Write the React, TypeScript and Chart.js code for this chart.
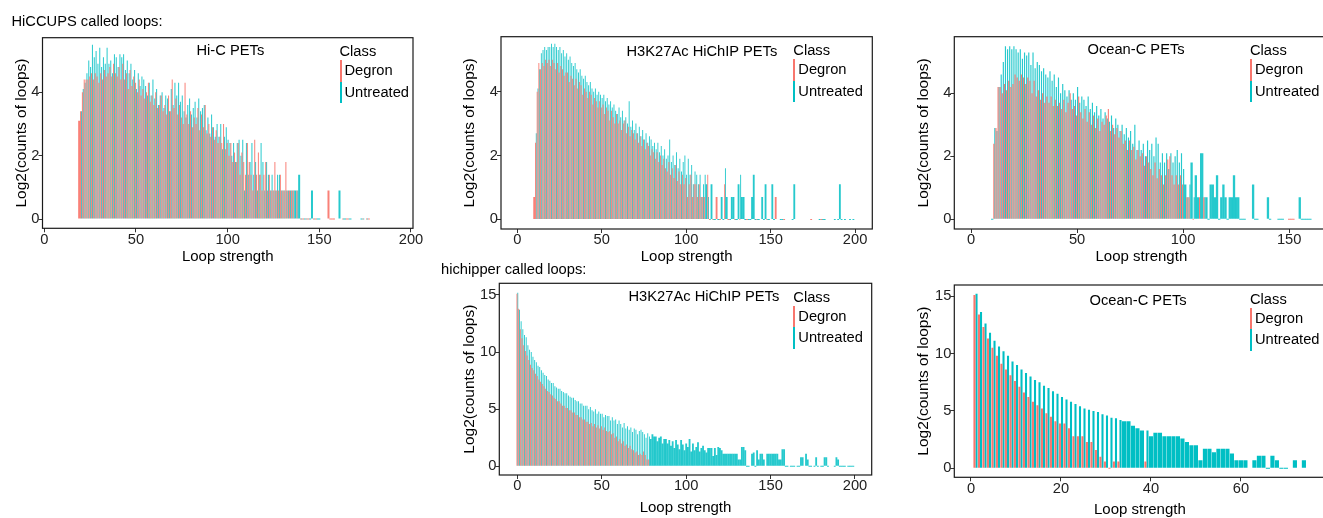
import React, { useEffect, useRef } from 'react';
import { Chart, registerables } from 'chart.js';

Chart.register(...registerables);

const FONT = "'Liberation Sans', Arial, Helvetica, sans-serif";
const RED = '#F8766D';
const CYAN = '#00BFC4';
const TXT = 14.7;

// ---------------- tick labels ----------------
const xTicks200 = [0, 50, 100, 150, 200];
const xTicks150 = [0, 50, 100, 150];
const xTicks60 = [0, 20, 40, 60];
const yTicksSmall = [0, 2, 4];
const yTicksLarge = [0, 5, 10, 15];

const seriesNames = ['Degron', 'Untreated'];

// ---------------- HiCCUPS / Hi-C PETs (x starts at 19) ----------------
const hicStart = 19;
const hicDegron = [
  3.1, 3.4, 4.0, 4.4, 4.4, 4.4, 4.5, 4.6, 4.4, 4.6,
  4.5, 4.3, 4.6, 4.4, 4.7, 4.5, 4.6, 4.8, 4.5, 4.9,
  4.6, 4.5, 4.8, 4.4, 4.9, 4.4, 4.6, 4.1, 4.7, 4.2,
  4.5, 4.3, 4.0, 4.4, 3.9, 4.1, 3.8, 4.0, 4.3, 3.7,
  3.9, 3.6, 4.0, 3.5, 3.6, 3.9, 3.4, 3.6, 3.3, 3.9,
  3.4, 4.4, 3.5, 3.8, 3.3, 3.6, 3.2, 3.0, 4.3, 3.3,
  3.0, 3.4, 2.9, 3.2, 3.0, 3.5, 2.8, 3.3, 2.9, 3.6,
  2.7, 3.0, 2.6, 2.9, 2.5, 2.8, 2.4, 2.6, 2.4, 3.0,
  2.2, 2.4, 2.0, 2.4, 1.8, 2.1, 1.8, 2.4, 1.4, 2.1,
  1.8, 1.4, 2.4, 1.8, 1.4, 0.9, 2.5, 1.4, 2.1, 1.4,
  0.9, 1.4, 1.8, 0.9, 1.4, 0.9, 0.9, 1.8, 0.9, 0.9,
  1.4, 0.9, 0.9, 1.8, 0.9, 0.9, 0.9, 0.9, null, 0.9,
  null, 0, 0, null, 0, 0, null, null, 0, 0,
  null, null, null, null, null, null, 0.9, 0, 0, 0,
  null, null, null, null, 0, null, 0, 0, null, null,
  null, null, null, null, null, 0, null, 0, 0,
];
const hicUntreated = [
  null, 3.4, 4.1, 4.3, 4.6, 5.0, 4.8, 5.5, 5.1, 5.3,
  4.9, 5.4, 4.8, 5.1, 4.9, 5.4, 4.9, 5.0, 4.6, 5.2,
  5.1, 4.8, 5.2, 5.1, 5.2, 4.7, 5.0, 4.6, 4.9, 4.4,
  4.7, 4.1, 4.6, 4.2, 4.5, 4.4, 4.2, 3.9, 4.3, 3.9,
  4.4, 3.8, 4.1, 3.6, 3.9, 4.0, 3.5, 3.9, 3.8, 3.4,
  4.1, 3.6, 4.3, 3.9, 4.3, 3.7, 3.9, 3.4, 3.2, 3.6,
  3.8, 3.3, 3.5, 3.7, 3.2, 3.8, 3.4, 3.5, 3.6, 2.8,
  3.2, 2.7, 3.3, 2.9, 2.6, 3.0, 2.6, 3.0, 2.2, 2.6,
  2.9, 2.5, 2.4, 2.0, 2.4, 1.8, 2.4, 2.5, 2.0, 2.5,
  0.9, 2.4, 1.4, 1.8, 2.4, 1.4, 1.8, 0.9, 1.4, 2.4,
  1.8, 0.9, 1.8, 1.4, 0.9, 1.4, 0.9, 0.9, 1.4, 1.4,
  0.9, 0.9, 0.9, 0.9, 0.9, 0.9, 0.9, 0.9, 0.9, 0.9,
  1.4, 0, null, 0, 0, null, 0, 0.9, 0, null,
  0, 0, null, null, null, null, null, null, null, null,
  null, null, 0.9, null, 0, 0, null, 0, 0, null,
  null, null, null, null, 0, 0, null, 0,
];

// ---------------- HiCCUPS / H3K27Ac HiChIP PETs (x starts at 10) ----------------
const hichipStart = 10;
const hichipDegron = [
  0.7, 2.4, 4.0, 4.9, 4.7, 4.9, 4.8, 5.0, 4.9, 5.0,
  4.8, 5.0, 4.9, 4.7, 4.9, 4.6, 4.8, 4.7, 4.5, 4.6,
  4.6, 4.3, 4.5, 4.4, 4.2, 4.4, 4.1, 4.3, 4.2, 3.9,
  4.1, 4.0, 3.8, 4.0, 3.9, 3.6, 3.8, 3.7, 3.5, 3.7,
  3.5, 3.6, 3.3, 3.5, 3.4, 3.1, 3.4, 3.2, 3.0, 3.3,
  3.0, 3.1, 2.8, 3.0, 3.1, 2.7, 2.9, 2.6, 2.8, 2.7,
  2.5, 2.7, 2.4, 2.6, 2.3, 2.5, 2.2, 2.4, 2.3, 2.0,
  2.2, 2.1, 1.9, 2.1, 1.8, 2.0, 1.7, 1.9, 1.6, 1.5,
  1.8, 1.4, 1.6, 1.3, 1.7, 1.2, 1.5, 1.1, 1.4, 1.1,
  1.3, 0.7, 1.1, 1.4, 0.7, 1.1, 1.1, 0.7, 1.1, 0.7,
  0.7, 0.7, null, 1.4, 0, null, 0, null, 0.7, null,
  0, null, null, 1.1, null, 0, null, null, null, 0,
  null, null, 0, null, null, null, 0, null, null, null,
  null, null, 0, null, null, null, null, null, 0, null,
  null, null, null, 0.7, null, null, null, null, 0, null,
  null, null, null, null, null, null, null, null, null, null,
  null, null, null, null, 0, null, null, null, null, null,
  0,
];
const hichipUntreated = [
  null, 2.7, 4.1, 4.7, 5.2, 5.3, 5.4, 5.3, 5.4, 5.4,
  5.5, 5.4, 5.5, 5.4, 5.3, 5.4, 5.2, 5.3, 5.1, 5.2,
  5.0, 5.1, 4.9, 4.8, 4.9, 4.7, 4.6, 4.7, 4.5, 4.4,
  4.5, 4.3, 4.2, 4.3, 4.1, 4.0, 4.1, 3.9, 4.0, 3.9,
  3.8, 3.9, 3.7, 3.8, 3.6, 3.7, 3.5, 3.6, 3.4, 3.3,
  3.5, 3.2, 3.4, 3.1, 3.2, 3.0, 3.7, 2.9, 3.1, 2.8,
  3.0, 2.7, 2.9, 2.6, 2.8, 2.5, 2.7, 2.4, 2.6, 2.5,
  2.3, 2.4, 2.2, 2.4, 2.1, 2.3, 2.0, 2.2, 1.9, 2.0,
  2.5, 1.8, 2.0, 1.7, 2.1, 1.6, 1.9, 1.5, 1.8, 2.0,
  1.4, 1.9, 1.4, 1.7, 1.1, 1.5, 1.4, 1.1, 1.4, 0.7,
  1.1, 1.4, 1.1, 0.7, 0, 1.1, 0, 0, null, 0,
  null, 0.7, 0, 1.6, 0.7, null, 0, 0.7, 0.7, 0,
  0, 1.1, 1.4, 0.7, 0.7, 0, null, 0, 0, 0.7,
  1.4, 0, 0, 0, null, 0.7, 0, 1.1, 0, 0,
  null, 1.1, 0, null, null, null, 0, 0, null, null,
  null, null, null, 0, 1.1, null, null, null, null, null,
  null, null, null, null, null, null, null, null, null, 0,
  null, 0, 0, null, null, null, null, null, 0, null,
  0, 1.1, 0, null, 0, null, null, 0, null, 0,
];

// ---------------- HiCCUPS / Ocean-C PETs (x starts at 10) ----------------
const oceanStart = 10;
const oceanDegron = [
  null, 2.4, 2.9, 4.2, 4.2, 4.0, 4.3, 4.1, 4.4, 4.2,
  4.3, 4.6, 4.5, 4.4, 4.6, 4.5, 4.3, 4.5, 4.4, 4.0,
  4.4, 3.9, 4.1, 3.8, 4.0, 3.7, 3.9, 3.7, 3.9, 3.6,
  3.8, 3.6, 3.7, 3.5, 3.8, 3.4, 3.7, 4.0, 3.5, 3.6,
  3.3, 3.9, 3.4, 3.2, 3.5, 3.1, 3.4, 3.0, 3.3, 2.9,
  3.2, 2.8, 3.1, 3.0, 3.3, 3.5, 2.8, 3.0, 2.7, 2.9,
  2.6, 2.8, 2.4, 2.5, 2.2, 2.5, 2.2, 2.3, 1.9, 2.2,
  2.0, 2.1, 1.7, 2.0, 1.8, 1.6, 1.4, 1.8, 1.3, 1.6,
  1.4, 1.1, 1.4, 1.9, 2.0, 1.4, 1.1, 1.4, 1.1, 1.4,
  1.1, null, 0.7, 0.7, null, 0, null, null, 0.7, null,
  0.7, null, null, null, null, null, null, null, null, null,
  null, null, null, null, null, null, null, null, null, null,
  null, null, null, null, null, null, null, null, null, null,
  null, null, null, null, null, null, null, null, null, null,
  0, 0, 0,
];
const oceanUntreated = [
  0, 2.9, 2.8, 4.2, 4.6, 5.0, 5.5, 5.4, 5.5, 5.4,
  5.5, 5.4, 5.3, 5.4, 5.1, 5.3, 5.2, 5.3, 4.9, 5.3,
  4.8, 5.0, 4.9, 4.7, 4.8, 4.6, 4.5, 4.7, 4.4, 4.6,
  4.2, 4.5, 4.0, 4.3, 4.1, 3.9, 4.1, 3.8, 4.0, 3.8,
  4.2, 3.7, 3.9, 3.8, 3.6, 3.9, 3.5, 3.7, 3.4, 3.6,
  3.3, 3.5, 3.2, 3.4, 3.2, 3.1, 3.3, 2.9, 3.2, 3.0,
  2.8, 3.0, 2.7, 2.9, 2.6, 2.8, 2.4, 3.0, 2.2, 2.5,
  2.2, 2.4, 2.0, 2.5, 2.2, 2.4, 2.0, 2.6, 2.4, 1.8,
  2.1, 1.8, 2.1, 1.6, 2.1, 1.8, 2.0, 2.2, 1.8, 2.1,
  1.6, 1.1, 0.7, 1.1, 1.8, 0.7, 1.4, 0.7, 2.1, 2.1,
  0.7, 0.7, 0, 1.1, 1.1, 0.7, 1.4, 0, 0.7, 1.1,
  0.7, 0, 0.7, 0.7, 1.4, 0.7, 0.7, 0, 0, 0,
  null, null, null, 1.1, 0, 0, null, null, null, null,
  0.7, 0, null, null, null, 0, 0, 0, null, null,
  null, null, null, null, null, 0.7, 0, 0, 0, 0,
  0,
];

// ---------------- hichipper / H3K27Ac HiChIP PETs (x starts at 0) ----------------
const hpH3Start = 0;
const hpH3Degron = [
  15.1, 13.8, 12.0, 11.2, 10.6, 10.1, 9.7, 9.3, 8.9, 8.6,
  8.4, 8.1, 7.9, 7.6, 7.4, 7.2, 7.0, 6.8, 6.6, 6.5,
  6.3, 6.2, 6.0, 5.9, 5.7, 5.7, 5.5, 5.3, 5.3, 5.1,
  5.1, 4.9, 4.9, 4.7, 4.7, 4.5, 4.5, 4.3, 4.3, 4.1,
  4.1, 3.9, 3.9, 3.7, 3.8, 3.5, 3.7, 3.4, 3.6, 3.3,
  3.5, 3.2, 3.4, 3.1, 3.0, 3.1, 2.8, 2.9, 2.5, 2.6,
  2.2, 2.4, 2.0, 2.2, 1.8, 1.9, 1.6, 1.8, 1.5, 1.4,
  1.2, 1.3, 1.0, 1.1, 1.0, 1.3, 1.0, 0.6, 0.6,
];
const hpH3Untreated = [
  15.2, 13.7, 12.7, 12.0, 11.5, 11.3, 10.6, 10.2, 10.0, 9.6,
  9.3, 9.1, 8.8, 8.7, 8.4, 8.2, 8.0, 7.9, 7.6, 7.5,
  7.3, 7.3, 7.0, 6.9, 6.8, 6.8, 6.6, 6.5, 6.4, 6.4,
  6.2, 6.1, 6.0, 6.0, 5.8, 5.7, 5.7, 5.5, 5.5, 5.3,
  5.3, 5.3, 5.0, 5.2, 4.9, 4.8, 5.0, 4.6, 4.8, 4.6,
  4.6, 4.3, 4.5, 4.4, 4.4, 4.0, 4.3, 4.0, 4.1, 3.7,
  4.0, 3.7, 3.4, 3.8, 3.3, 3.5, 3.2, 3.4, 3.0, 3.3,
  3.2, 2.8, 3.1, 3.2, 3.0, 2.8, 2.5, 2.9, 2.6, 2.4,
  2.8, 2.6, 2.6, 2.2, 2.5, 2.6, 2.0, 2.4, 2.4, 2.0,
  2.3, 1.8, 2.2, 1.6, 2.3, 1.9, 1.5, 2.3, 1.9, 1.4,
  2.0, 1.7, 2.4, 1.3, 2.0, 1.4, 1.7, 2.1, 1.3, 1.6,
  1.8, 1.4, 1.2, 1.6, 1.6, 1.6, 0.9, 1.6, 1.0, 1.7,
  1.6, 1.4, 1.1, 1.1, 1.1, 1.1, 1.1, 1.1, 1.1, 1.1,
  1.1, 0.6, 0.6, 1.7, 1.7, 1.4, 0, 0, null, 1.1,
  1.2, 0, 1.4, 0.6, 1.1, 1.1, 0.6, null, 1.1, 1.1,
  1.1, 1.1, 1.1, 1.1, 1.1, 0.6, 0.6, 1.5, 1.5, 0,
  0, null, 0, 0, 0, null, 0, 0, 0.8, 0.8,
  null, 1.1, 0.6, 0, 0, null, 0, 0.8, 0, null,
  0, 0, 0.8, 0.8, 0, null, null, null, 0, 0.8,
  0.6, 0, 0, 0, 0, null, 0, 0, 0, 0,
];

// ---------------- hichipper / Ocean-C PETs (x starts at 1) ----------------
const hpOcStart = 1;
const hpOcDegron = [
  15.1, 13.4, 12.3, 11.3, 10.5, 9.8, 9.1, 8.6, 8.1, 7.6,
  7.1, 6.6, 6.2, 5.8, 5.5, 5.2, 4.8, 4.5, 4.1, 3.9,
  3.9, 3.5, 2.8, 2.8, 2.8, 2.3, 2.3, 1.6, 1.0, 0.6,
  0, 0.6, 0.6, null, null, null, null, null, 0.6,
];
const hpOcUntreated = [
  15.2, 13.6, 12.6, 11.8, 11.1, 10.6, 10.2, 9.8, 9.3, 9.0,
  8.6, 8.3, 8.0, 7.7, 7.5, 7.2, 7.0, 6.7, 6.5, 6.2,
  6.0, 5.8, 5.6, 5.4, 5.2, 5.1, 5.0, 4.9, 4.7, 4.6,
  4.4, 4.35, 4.2, 4.1, 4.1, 3.7, 3.5, 3.3, 3.3, 2.8,
  3.1, 3.1, 2.8, 2.8, 2.8, 2.8, 2.6, 2.3, 2.0, 2.0,
  0.7, 1.7, 1.7, 1.4, 1.7, 1.7, 1.7, 1.3, 0.7, 0.7,
  0.7, null, 0.7, 1.1, 1.1, 0, 1.1, 0.7, 0, 0,
  null, 0.7, null, 0.7,
];

// ---------------- helpers ----------------
// Both series get the same x grid (aligned indices) so that, like ggplot's dodge,
// a lone bar at some x takes the full slot (Chart.js skipNull).
function toPoints(start: number, vals: (number | null)[], len: number) {
  const pts: { x: number; y: number | null }[] = [];
  for (let i = 0; i < len; i++) {
    const v = vals[i];
    pts.push({ x: start + i, y: v === undefined ? null : v });
  }
  return pts;
}

type Spec = {
  key: string;
  aL: number; aR: number; aT: number; aB: number;
  yTitleX: number; xTitleMid: number;
  xMin: number; xMax: number; yMin: number; yMax: number;
  xTicks: number[]; yTicks: number[];
  start: number; degron: (number | null)[]; untreated: (number | null)[];
  cp: number; bp: number; redFill: string; cyanFill: string;
};

const DENSE_RED = 'rgba(248,118,109,0.92)';
const DENSE_CYAN = 'rgba(0,191,196,0.85)';

const panels: Spec[] = [
  {
    key: 'hic', aL: 42.5, aR: 413, aT: 37.7, aB: 228.3, yTitleX: 21, xTitleMid: 256.5,
    xMin: -1, xMax: 201.1, yMin: -0.29, yMax: 5.72, xTicks: xTicks200, yTicks: yTicksSmall,
    start: hicStart, degron: hicDegron, untreated: hicUntreated, cp: 0.95, bp: 1.15,
    redFill: DENSE_RED, cyanFill: DENSE_CYAN,
  },
  {
    key: 'hichip', aL: 501, aR: 872.3, aT: 36.7, aB: 229, yTitleX: 469, xTitleMid: 256.5,
    xMin: -9.65, xMax: 210.2, yMin: -0.3, yMax: 5.72, xTicks: xTicks200, yTicks: yTicksSmall,
    start: hichipStart, degron: hichipDegron, untreated: hichipUntreated, cp: 0.95, bp: 1.15,
    redFill: DENSE_RED, cyanFill: DENSE_CYAN,
  },
  {
    key: 'ocean', aL: 954.3, aR: 1328.4, aT: 36.7, aB: 229, yTitleX: 923.5, xTitleMid: 256.5,
    xMin: -7.88, xMax: 168.5, yMin: -0.31, yMax: 5.8, xTicks: xTicks150, yTicks: yTicksSmall,
    start: oceanStart, degron: oceanDegron, untreated: oceanUntreated, cp: 0.95, bp: 1.15,
    redFill: DENSE_RED, cyanFill: DENSE_CYAN,
  },
  {
    key: 'hpH3', aL: 499.3, aR: 871.7, aT: 283.3, aB: 475, yTitleX: 469, xTitleMid: 508,
    xMin: -10.7, xMax: 209.9, yMin: -0.76, yMax: 16.02, xTicks: xTicks200, yTicks: yTicksLarge,
    start: hpH3Start, degron: hpH3Degron, untreated: hpH3Untreated, cp: 0.95, bp: 1.15,
    redFill: DENSE_RED, cyanFill: DENSE_CYAN,
  },
  {
    key: 'hpOc', aL: 954.3, aR: 1325.5, aT: 285, aB: 477.3, yTitleX: 923.5, xTitleMid: 509.8,
    xMin: -3.71, xMax: 78.8, yMin: -0.78, yMax: 15.96, xTicks: xTicks60, yTicks: yTicksLarge,
    start: hpOcStart, degron: hpOcDegron, untreated: hpOcUntreated, cp: 0.92, bp: 1.0,
    redFill: RED, cyanFill: CYAN,
  },
];

function layoutFor(p: Spec) {
  const left = Math.floor(p.yTitleX - 14);
  const top = Math.floor(p.aT - 14);
  const right = Math.ceil(p.aR + 16);
  const bottom = Math.ceil(p.xTitleMid + 14);
  return {
    left, top, w: right - left, h: bottom - top,
    yw: p.aL - left,
    xh: bottom - p.aB,
    padTop: p.aT - top,
    padRight: right - p.aR,
    yTitlePad: p.yTitleX - left - 9,
    xTitlePadBottom: bottom - p.xTitleMid - 9,
  };
}

const framePlugin = {
  id: 'panelFrame',
  afterDraw(chart: any) {
    const { ctx, chartArea } = chart;
    ctx.save();
    ctx.strokeStyle = '#1a1a1a';
    ctx.lineWidth = 1.2;
    ctx.strokeRect(chartArea.left, chartArea.top, chartArea.right - chartArea.left, chartArea.bottom - chartArea.top);
    ctx.restore();
  },
};

function Panel({ spec }: { spec: Spec }) {
  const ref = useRef<HTMLCanvasElement>(null);
  const L = layoutFor(spec);
  useEffect(() => {
    const tickFont = { family: FONT, size: TXT };
    const titleFont = { family: FONT, size: 15 };
    const gridOpts = {
      display: true, drawOnChartArea: false, drawTicks: true, tickLength: 4,
      color: '#333333', lineWidth: 1, offset: false,
    };
    const len = Math.max(spec.degron.length, spec.untreated.length);
    const common = {
      borderWidth: 0, minBarLength: 1, inflateAmount: 0, skipNull: true,
      categoryPercentage: spec.cp, barPercentage: spec.bp,
    };
    const chart = new Chart(ref.current as HTMLCanvasElement, {
      type: 'bar',
      data: {
        datasets: [
          {
            label: seriesNames[0], data: toPoints(spec.start, spec.degron, len) as any,
            backgroundColor: spec.redFill, ...common,
          },
          {
            label: seriesNames[1], data: toPoints(spec.start, spec.untreated, len) as any,
            backgroundColor: spec.cyanFill, ...common,
          },
        ],
      },
      options: {
        responsive: false,
        animation: false,
        devicePixelRatio: 1,
        layout: { padding: { top: L.padTop, right: L.padRight, left: 0, bottom: 0 } },
        plugins: { legend: { display: false }, tooltip: { enabled: false } },
        scales: {
          x: {
            type: 'linear', min: spec.xMin, max: spec.xMax, offset: false,
            afterBuildTicks: (ax: any) => { ax.ticks = spec.xTicks.map((v) => ({ value: v })); },
            afterFit: (s: any) => { s.height = L.xh; },
            grid: gridOpts as any,
            border: { display: false },
            ticks: { font: tickFont, color: '#222222', padding: -1.5, maxRotation: 0, autoSkip: false },
            title: {
              display: true, text: 'Loop strength', font: titleFont, color: '#000000',
              padding: { top: 0, bottom: L.xTitlePadBottom },
            },
          },
          y: {
            type: 'linear', min: spec.yMin, max: spec.yMax,
            afterBuildTicks: (ax: any) => { ax.ticks = spec.yTicks.map((v) => ({ value: v })); },
            afterFit: (s: any) => { s.width = L.yw; },
            grid: gridOpts as any,
            border: { display: false },
            ticks: { font: tickFont, color: '#222222', padding: -1 },
            title: {
              display: true, text: 'Log2(counts of loops)', font: { family: FONT, size: 15.5 }, color: '#000000',
              padding: { top: L.yTitlePad, bottom: 0 },
            },
          },
        } as any,
      },
      plugins: [framePlugin],
    });
    return () => chart.destroy();
  }, []);
  return (
    <canvas
      ref={ref}
      width={L.w}
      height={L.h}
      style={{ position: 'absolute', left: L.left, top: L.top, width: L.w, height: L.h }}
    />
  );
}

function Txt({ x, base, children, size = TXT }: { x: number; base: number; children: any; size?: number }) {
  return (
    <div
      style={{
        position: 'absolute', left: x, top: base - 0.8465 * size, fontSize: size, lineHeight: 1,
        fontFamily: FONT, whiteSpace: 'nowrap', color: '#000',
      }}
    >
      {children}
    </div>
  );
}

function Legend({ x, top }: { x: number; top: number }) {
  return (
    <>
      <Txt x={x} base={top + 19}>Class</Txt>
      <div style={{ position: 'absolute', left: x, top: top + 22.5, width: 2, height: 21.5, background: RED }} />
      <div style={{ position: 'absolute', left: x, top: top + 44, width: 2, height: 21.5, background: CYAN }} />
      <Txt x={x + 5} base={top + 38}>{seriesNames[0]}</Txt>
      <Txt x={x + 5} base={top + 59.5}>{seriesNames[1]}</Txt>
    </>
  );
}

export default function App() {
  return (
    <div
      style={{
        position: 'fixed', left: 0, top: 0, width: 1323, height: 518, overflow: 'hidden',
        background: '#ffffff', fontFamily: FONT,
      }}
    >
      {panels.map((p) => (
        <Panel key={p.key} spec={p} />
      ))}
      <Txt x={11.5} base={26}>HiCCUPS called loops:</Txt>
      <Txt x={441} base={274.5}>hichipper called loops:</Txt>

      <Txt x={196.5} base={55.5}>Hi-C PETs</Txt>
      <Txt x={626.5} base={56}>H3K27Ac HiChIP PETs</Txt>
      <Txt x={1087.5} base={54.5}>Ocean-C PETs</Txt>
      <Txt x={628.5} base={301.7}>H3K27Ac HiChIP PETs</Txt>
      <Txt x={1089.5} base={305}>Ocean-C PETs</Txt>

      <Legend x={339.5} top={37.7} />
      <Legend x={793.3} top={36.7} />
      <Legend x={1250} top={36.7} />
      <Legend x={793.3} top={283.3} />
      <Legend x={1250} top={285} />
    </div>
  );
}
